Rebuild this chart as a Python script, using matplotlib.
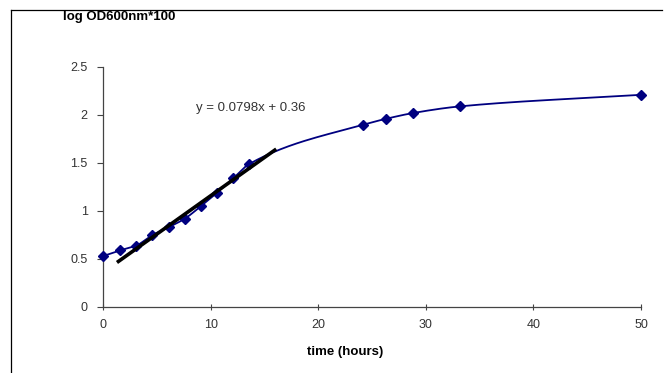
import numpy as np
import matplotlib
matplotlib.use("Agg")
from matplotlib import pyplot as plt
from matplotlib.lines import Line2D

# growth curve readings
time_h = [0, 1.6, 3.1, 4.6, 6.1, 7.6, 9.1, 10.6, 12.1, 13.6, 24.2, 26.3, 28.8, 33.2, 50]
log_od = [0.53, 0.59, 0.64, 0.75, 0.83, 0.92, 1.05, 1.19, 1.34, 1.49, 1.90, 1.96, 2.02, 2.09, 2.21]

# linear fit shown on the exponential phase
slope, intercept = 0.0798, 0.36
fit_range = [1.3, 16.1]

x_ticks = [0, 10, 20, 30, 40, 50]
y_ticks = [0, 0.5, 1, 1.5, 2, 2.5]
y_tick_labels = ["0", "0.5", "1", "1.5", "2", "2.5"]


def smooth(xs, ys, n=30):
    # monotone cubic (fritsch-carlson) through the points, for a smoothed line
    x = np.asarray(xs, float)
    y = np.asarray(ys, float)
    h = np.diff(x)
    d = np.diff(y) / h
    m = np.zeros_like(x)
    m[0], m[-1] = d[0], d[-1]
    for i in range(1, len(x) - 1):
        if d[i - 1] * d[i] > 0:
            w1 = 2 * h[i] + h[i - 1]
            w2 = h[i] + 2 * h[i - 1]
            m[i] = (w1 + w2) / (w1 / d[i - 1] + w2 / d[i])
    ox, oy = [], []
    for i in range(len(x) - 1):
        t = np.linspace(0, 1, n)
        h00 = 2 * t ** 3 - 3 * t ** 2 + 1
        h10 = t ** 3 - 2 * t ** 2 + t
        h01 = -2 * t ** 3 + 3 * t ** 2
        h11 = t ** 3 - t ** 2
        ox.append(x[i] + t * h[i])
        oy.append(h00 * y[i] + h10 * h[i] * m[i] + h01 * y[i + 1] + h11 * h[i] * m[i + 1])
    return np.concatenate(ox), np.concatenate(oy)


plt.rcParams['font.family'] = ['Liberation Sans', 'DejaVu Sans']

fig = plt.figure(figsize=(6.67, 3.73), dpi=100)
ax = fig.add_axes([0.1544, 0.177, 0.8066, 0.6434])

sx, sy = smooth(time_h, log_od)
ax.plot(sx, sy, color='#000080', lw=1.3, zorder=2, clip_on=False)
ax.plot(time_h, log_od, ls='none', marker='D', ms=5, color='#000080',
        zorder=3, clip_on=False)

fx = np.array(fit_range)
ax.plot(fx, slope * fx + intercept, color='black', lw=2.6, zorder=4,
        solid_capstyle='butt')

ax.text(8.6, 2.07, "y = 0.0798x + 0.36", fontsize=9.5, color='#333333',
        va='center', ha='left')

ax.set_xlim(0, 50)
ax.set_ylim(0, 2.5)
ax.set_xticks(x_ticks)
ax.set_yticks(y_ticks)
ax.set_yticklabels(y_tick_labels)
for s in ['top', 'right']:
    ax.spines[s].set_visible(False)
for s in ['left', 'bottom']:
    ax.spines[s].set_color('#444444')
    ax.spines[s].set_linewidth(0.9)
ax.tick_params(axis='x', direction='inout', length=5, labelsize=9,
               colors='#444444', labelcolor='#333333', pad=6)
ax.tick_params(axis='y', direction='out', length=4, labelsize=9,
               colors='#444444', labelcolor='#333333', pad=7)

fig.text(63 / 667, 1 - 17 / 373, "log OD600nm*100", fontsize=9.5,
         fontweight='bold', va='center', ha='left')
fig.text(345 / 667, 1 - 352 / 373, "time (hours)", fontsize=9.5,
         fontweight='bold', va='center', ha='center')

# chart area border (left and top edges visible)
fig.add_artist(Line2D([11 / 667, 11 / 667], [0, 1 - 10 / 373],
                      transform=fig.transFigure, color='black', lw=0.9))
fig.add_artist(Line2D([11 / 667, 662 / 667], [1 - 10 / 373, 1 - 10 / 373],
                      transform=fig.transFigure, color='black', lw=0.9))

fig.savefig('out.png', dpi=100)
